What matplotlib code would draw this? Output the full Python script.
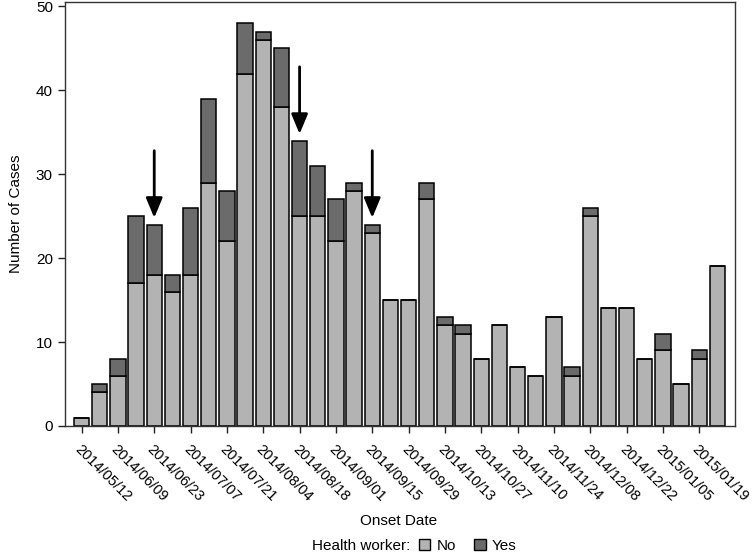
import matplotlib
matplotlib.use("Agg")
import matplotlib.pyplot as plt
from matplotlib.patches import Patch
import numpy as np

plt.rcParams['font.family'] = ['Liberation Sans', 'DejaVu Sans']

# weekly counts of cases by onset week
no_hw = [1, 4, 6, 17, 18, 16, 18, 29, 22, 42, 46, 38, 25, 25, 22, 28, 23, 15,
         15, 27, 12, 11, 8, 12, 7, 6, 13, 6, 25, 14, 14, 8, 9, 5, 8, 19]
yes_hw = [0, 1, 2, 8, 6, 2, 8, 10, 6, 6, 1, 7, 9, 6, 5, 1, 1, 0,
          0, 2, 1, 1, 0, 0, 0, 0, 0, 1, 1, 0, 0, 0, 2, 0, 1, 0]

tick_labels = ["2014/05/12", "2014/06/09", "2014/06/23", "2014/07/07",
               "2014/07/21", "2014/08/04", "2014/08/18", "2014/09/01",
               "2014/09/15", "2014/09/29", "2014/10/13", "2014/10/27",
               "2014/11/10", "2014/11/24", "2014/12/08", "2014/12/22",
               "2015/01/05", "2015/01/19"]

# weeks marked with arrows (bar index)
arrow_weeks = [4, 12, 16]

light = "#b3b3b3"
dark = "#6b6b6b"

fig = plt.figure(figsize=(7.52, 5.56), dpi=100)
ax = fig.add_axes([0.086, 0.234, 0.891, 0.762])

x = np.arange(len(no_hw))
ax.bar(x, no_hw, width=0.85, color=light, edgecolor="black", linewidth=1.1)
ax.bar(x, yes_hw, bottom=no_hw, width=0.85, color=dark, edgecolor="black",
       linewidth=1.1)

totals = np.array(no_hw) + np.array(yes_hw)
for w in arrow_weeks:
    ax.annotate("", xy=(w, totals[w] + 0.8), xytext=(w, totals[w] + 8.8),
                arrowprops=dict(arrowstyle="-|>,head_length=1.2,head_width=0.5",
                                color="black", lw=2, shrinkA=0, shrinkB=0))

ax.set_xlim(-0.93, 35.95)
ax.set_ylim(0, 50.5)
ax.set_yticks(range(0, 51, 10))
ax.set_xticks(x[::2])
ax.set_xticklabels(tick_labels, rotation=-45, ha="left", va="top",
                   rotation_mode="anchor")
ax.tick_params(axis="both", length=5, width=1, color="#222222", labelsize=11)
ax.tick_params(axis="x", labelsize=10.5, pad=7)
for s in ax.spines.values():
    s.set_color("#333333")
    s.set_linewidth(1)

ax.set_ylabel("Number of Cases", fontsize=11, labelpad=9)
fig.text(0.530, 0.063, "Onset Date", ha="center", va="center", fontsize=11)

fig.text(0.546, 0.018, "Health worker:", ha="right", va="center", fontsize=11)
handles = [Patch(facecolor=light, edgecolor="black", label="No"),
           Patch(facecolor=dark, edgecolor="black", label="Yes")]
fig.legend(handles=handles, ncol=2, loc="center left",
           bbox_to_anchor=(0.557, 0.018), frameon=False, fontsize=11,
           handlelength=0.75, handleheight=0.75, handletextpad=0.4,
           columnspacing=1.2, borderaxespad=0, borderpad=0)

fig.savefig("out.png", dpi=100)
